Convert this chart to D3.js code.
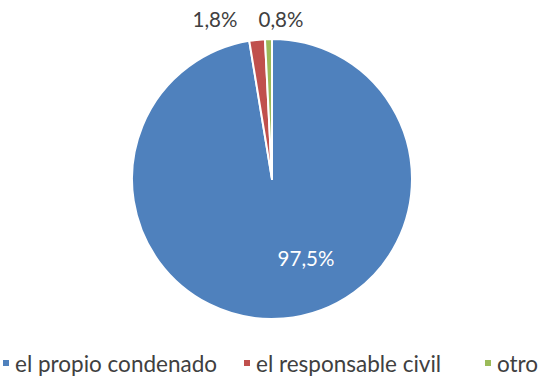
<!DOCTYPE html>
<html><head><meta charset="utf-8">
<script src="https://cdn.jsdelivr.net/npm/d3@7"></script>
<style>body{margin:0;background:#fff}svg{display:block}</style>
</head><body>
<svg id="c" width="548" height="377"></svg>
<script>
const categories = ["el propio condenado", "el responsable civil", "otro"];
const values = [97.5, 1.8, 0.8];
const labels = ["97,5%", "1,8%", "0,8%"];
const colors = ["#4F81BD", "#C0504D", "#9BBB59"];

const svg = d3.select("#c");
const cx = 272, cy = 179, r = 140;
const font = "Lato, 'Open Sans', sans-serif";

const pie = d3.pie().sort(null).value(d => d)(values);
const arc = d3.arc().innerRadius(0).outerRadius(r);
const g = svg.append("g").attr("transform", `translate(${cx},${cy})`);
g.selectAll("path").data(pie).join("path")
  .attr("d", arc)
  .attr("fill", (d, i) => colors[i])
  .attr("stroke", "#fff").attr("stroke-width", 2).attr("stroke-linejoin", "round");

// labels
const labelPos = [
  {x: 34, y: 87, fill: "#fff"},
  {x: -57, y: -152, fill: "#404040"},
  {x: 9, y: -152, fill: "#404040"}
];
g.selectAll("text.lbl").data(pie).join("text").attr("class", "lbl")
  .attr("x", (d, i) => labelPos[i].x).attr("y", (d, i) => labelPos[i].y)
  .attr("text-anchor", "middle")
  .attr("font-family", font).attr("font-size", 20.5)
  .attr("fill", (d, i) => labelPos[i].fill)
  .text((d, i) => labels[i]);

// legend
const legX = [3, 244, 485];
const lg = svg.append("g");
categories.forEach((c, i) => {
  lg.append("rect").attr("x", legX[i]).attr("y", 360).attr("width", 6).attr("height", 6).attr("fill", colors[i]);
  lg.append("text").attr("x", legX[i] + 12).attr("y", 372)
    .attr("font-family", font).attr("font-size", 22.5).attr("fill", "#404040").text(c);
});
</script>
</body></html>
